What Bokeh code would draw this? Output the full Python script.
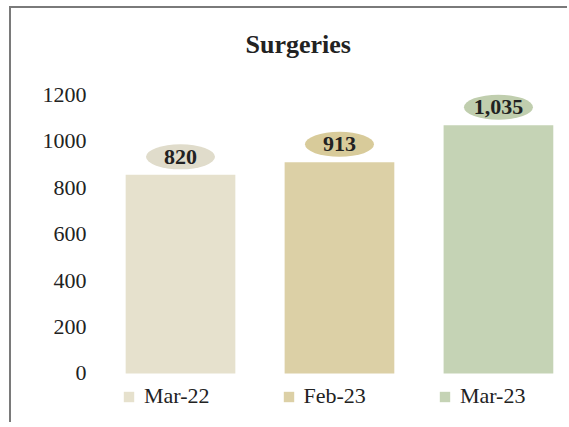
from bokeh.plotting import figure
from bokeh.models import ColumnDataSource, FixedTicker, Range1d, Legend, LegendItem
from bokeh.core.properties import value
from bokeh.embed import file_html
from bokeh.resources import INLINE

# ---- data ----
categories = ["Mar-22", "Feb-23", "Mar-23"]
bar_heights = [856, 910, 1070]          # bar tops as drawn in the picture
label_texts = ["820", "913", "1,035"]    # printed data labels
bar_colors = ["#e6e1cd", "#dcd0a6", "#c5d3b5"]
label_colors = ["#e0dccb", "#d8cb9a", "#c0ceae"]
y_ticks = [0, 200, 400, 600, 800, 1000, 1200]

FONT = "Liberation Serif"
PX_PER_UNIT = 0.232
label_lift = 18 / PX_PER_UNIT

xs = list(range(len(categories)))
src = ColumnDataSource(dict(
    x=xs,
    top=bar_heights,
    cat=categories,
    color=bar_colors,
    lcolor=label_colors,
    ly=[h + label_lift for h in bar_heights],
    txt=label_texts,
))

p = figure(width=558, height=416, output_backend="svg", toolbar_location=None,
           x_range=Range1d(-0.541, 2.447), y_range=Range1d(-219.8, 1335.8),
           min_border_left=83, min_border_right=0, min_border_top=55, min_border_bottom=0)
p.styles = {"margin-left": "9px", "margin-top": "6px",
            "border-left": "2px solid #7a7a7a", "border-top": "2px solid #7a7a7a"}

p.title.text = "Surgeries"
p.title.align = "left"
p.title.offset = 151
p.title.text_font = FONT
p.title.text_font_size = "26px"
p.title.text_font_style = "bold"
p.title.text_color = "#222222"

bars = p.vbar(x="x", top="top", width=0.69, bottom=0, source=src,
              fill_color="color", line_color=None)

p.ellipse(x="x", y="ly", width=69, height=25, width_units="screen", height_units="screen",
          source=src, fill_color="lcolor", line_color=None)
p.text(x="x", y="ly", text="txt", source=src, text_align="center", text_baseline="middle",
       text_font=value(FONT), text_font_size="22px", text_font_style="bold", text_color="#222222")

p.xaxis.visible = False
p.yaxis.ticker = FixedTicker(ticks=y_ticks)
p.yaxis.axis_line_color = None
p.yaxis.major_tick_line_color = None
p.yaxis.minor_tick_line_color = None
p.yaxis.major_tick_out = 0
p.yaxis.major_label_standoff = 8
p.yaxis.major_label_text_font = FONT
p.yaxis.major_label_text_font_size = "22px"
p.yaxis.major_label_text_color = "#222222"

p.xgrid.visible = False
p.ygrid.visible = False
p.outline_line_color = None
p.background_fill_color = "white"
p.border_fill_color = "white"

items = [LegendItem(label=c, renderers=[bars], index=i) for i, c in enumerate(categories)]
legend = Legend(items=items, orientation="horizontal", location=(28, 15),
                glyph_width=13, glyph_height=13, label_standoff=9, spacing=72,
                padding=0, margin=0, border_line_color=None, background_fill_alpha=0,
                label_text_font=FONT, label_text_font_size="22px", label_text_color="#222222")
p.add_layout(legend)

open("out.html", "w").write(file_html(p, INLINE))
